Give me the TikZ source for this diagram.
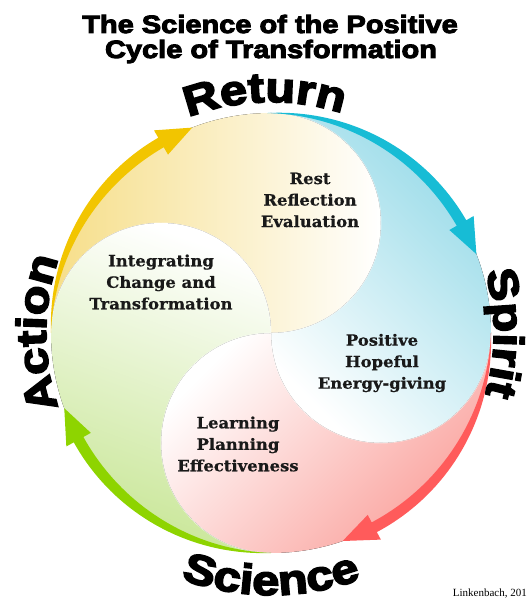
\documentclass[tikz,border=0pt]{standalone}
\usepackage{fontspec}
\usetikzlibrary{decorations.text}
\newfontfamily\heavy{Liberation Sans}[UprightFont=* Bold,FakeBold=4,FakeStretch=1.16]
\newfontfamily\slab{DejaVu Serif}[UprightFont=* Bold,FakeBold=0.6,FakeStretch=1.06]
\newfontfamily\lserif{Liberation Serif}
\definecolor{Yarr}{RGB}{242,197,0}
\definecolor{Barr}{RGB}{23,188,213}
\definecolor{Rarr}{RGB}{255,91,91}
\definecolor{Garr}{RGB}{142,212,0}
\definecolor{Ypet}{RGB}{246,222,136}
\definecolor{Bpet}{RGB}{150,218,232}
\definecolor{Rpet}{RGB}{250,160,155}
\definecolor{Gpet}{RGB}{200,230,150}
\definecolor{txt}{RGB}{25,25,25}
% clockwise arrow along the circle: colour, start angle, head back angle, tip angle
\newcommand{\cyclearrow}[4]{%
  \fill[#1] plot[domain=#2:#3,samples=40,variable=\t] (\t:{220+5.5*sin(90*(#2-\t)/(#2-#3))})
    -- (#3:234) -- (#4:220) -- (#3:206)
    -- plot[domain=#3:#2,samples=40,variable=\t] (\t:{220-5.5*sin(90*(#2-\t)/(#2-#3))}) -- cycle;}
\begin{document}
\begin{tikzpicture}[x=1pt,y=1pt,
  petaltext/.style={align=center,text=txt,font=\slab\fontsize{15.5}{21.5}\selectfont},
  bigword/.style={decorate,decoration={text along path,text align=center,text={|\heavy\fontsize{42}{42}\selectfont|#1}}}]
\useasboundingbox (0,0) rectangle (527,600);
\begin{scope}[shift={(271,267)}]
  % petals
  \fill[left color=Ypet,right color=white]
    (180:220pt) arc[start angle=180,end angle=90,radius=220pt]
    arc[start angle=90,end angle=-90,radius=110pt]
    arc[start angle=0,end angle=180,radius=110pt] -- cycle;
  \fill[top color=Bpet,bottom color=white,shading angle=-45]
    (90:220pt) arc[start angle=90,end angle=0,radius=220pt]
    arc[start angle=0,end angle=-180,radius=110pt]
    arc[start angle=-90,end angle=90,radius=110pt] -- cycle;
  \fill[bottom color=Rpet,top color=white,shading angle=45]
    (0:220pt) arc[start angle=0,end angle=-90,radius=220pt]
    arc[start angle=-90,end angle=-270,radius=110pt]
    arc[start angle=180,end angle=360,radius=110pt] -- cycle;
  \fill[bottom color=Gpet,top color=white,shading angle=-20]
    (-90:220pt) arc[start angle=-90,end angle=-180,radius=220pt]
    arc[start angle=180,end angle=0,radius=110pt]
    arc[start angle=90,end angle=270,radius=110pt] -- cycle;
  % soften the seams between the petals
  \draw[white,line width=0.9pt,opacity=0.6]
    (0,220) arc[start angle=90,end angle=-90,radius=110pt]
    (0,0) arc[start angle=180,end angle=360,radius=110pt]
    (0,0) arc[start angle=90,end angle=270,radius=110pt]
    (0,0) arc[start angle=0,end angle=180,radius=110pt];
  % arrows
  \cyclearrow{Yarr}{180}{120}{111}
  \cyclearrow{Barr}{91}{30}{21}
  \cyclearrow{Rarr}{0}{-62}{-71}
  \cyclearrow{Garr}{-90}{-151}{-160}
  % curved words
  \path[bigword=Return] (141.5:231pt) arc[start angle=141.5,end angle=41.5,radius=231pt];
  \path[bigword=Spirit] (50:223pt) arc[start angle=50,end angle=-50,radius=223pt];
  \path[bigword=Science] (-140:262pt) arc[start angle=-140,end angle=-40,radius=262pt];
  \path[bigword=Action] (230:225pt) arc[start angle=230,end angle=130,radius=225pt];
\end{scope}
% title
\node[anchor=base,font=\heavy\fontsize{25}{25}\selectfont] (title1) at (270,567) {The Science of the Positive};
\node[anchor=base,font=\heavy\fontsize{25}{25}\selectfont] (title2) at (271,542) {Cycle of Transformation};
% petal texts
\node[petaltext] (rest) at (310,400) {Rest\\Reflection\\Evaluation};
\node[petaltext] (integ) at (161,318) {Integrating\\Change and\\Transformation};
\node[petaltext] (posit) at (382,237) {Positive\\Hopeful\\Energy-giving};
\node[petaltext] (learn) at (238,156) {Learning\\Planning\\Effectiveness};
\node[anchor=base east,inner sep=0pt,font=\lserif\fontsize{11}{11}\selectfont] (credit) at (527,3) {Linkenbach, 201};
\end{tikzpicture}
\end{document}
